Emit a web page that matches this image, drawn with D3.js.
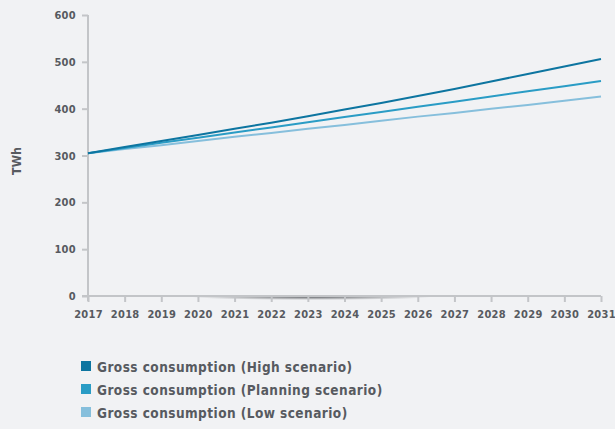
<!DOCTYPE html>
<html>
<head>
<meta charset="utf-8">
<script src="https://cdn.jsdelivr.net/npm/d3@7"></script>
<style>
	body { margin: 0; background: #f1f2f4; }
	svg text { font-family: "DejaVu Sans Condensed", "DejaVu Sans", sans-serif; font-weight: bold; fill: #575a60; }
</style>
</head>
<body>
<div id="chart"></div>
<script>
var years = [2017, 2018, 2019, 2020, 2021, 2022, 2023, 2024, 2025, 2026, 2027, 2028, 2029, 2030, 2031];
var high = [305, 318, 331, 344, 357, 370, 384, 398, 412, 427, 442, 458, 474, 490, 506];
var planning = [305, 316, 327, 338, 349, 360, 371, 382, 393, 404, 415, 426, 437, 448, 459];
var low = [305, 314, 322, 331, 340, 348, 357, 365, 374, 383, 391, 400, 408, 417, 426];
var yTicks = [0, 100, 200, 300, 400, 500, 600];
var seriesNames = ["Gross consumption (High scenario)", "Gross consumption (Planning scenario)", "Gross consumption (Low scenario)"];
var colors = ["#0d75a0", "#2a9cc5", "#86bfdc"];

var W = 615, H = 429;
var margin = {top: 15, left: 88};
var w = 513, h = 281;

var svg = d3.select("#chart").append("svg")
	.attr("width", W)
	.attr("height", H);

var defs = svg.append("defs");
var grad = defs.append("radialGradient").attr("id", "shadow")
	.attr("cx", "50%").attr("cy", "0%").attr("r", "50%");
grad.append("stop").attr("offset", "0%").attr("stop-color", "#606367").attr("stop-opacity", 0.9);
grad.append("stop").attr("offset", "100%").attr("stop-color", "#606367").attr("stop-opacity", 0);

var g = svg.append("g").attr("transform", "translate(" + margin.left + "," + margin.top + ")");

var x = d3.scaleLinear().domain([2017, 2031]).range([0, w]);
var y = d3.scaleLinear().domain([0, 600]).range([h, 0]);

// soft shadow under the x axis
g.append("rect")
	.attr("x", x(2019.8)).attr("y", h + 1)
	.attr("width", x(2026.4) - x(2019.8)).attr("height", 6)
	.attr("fill", "url(#shadow)");

// y axis
var yAxis = d3.axisLeft(y).tickValues(yTicks).tickSize(6).tickPadding(6);
var gy = g.append("g").call(yAxis);
gy.select(".domain").attr("stroke", "#c3c5c8").attr("stroke-width", 2).attr("d", "M0," + (h + 5) + "V0");
gy.selectAll(".tick line").attr("stroke", "#c3c5c8").attr("stroke-width", 2);
gy.selectAll(".tick text").attr("font-size", 11).attr("letter-spacing", 0.3);

// x axis
var xAxis = d3.axisBottom(x).tickValues(years).tickFormat(d3.format("d")).tickSize(6).tickPadding(8);
var gx = g.append("g").attr("transform", "translate(0," + h + ")").call(xAxis);
gx.select(".domain").attr("stroke", "#c3c5c8").attr("stroke-width", 2).attr("d", "M-6,0H" + w);
gx.selectAll(".tick line").attr("stroke", "#c3c5c8").attr("stroke-width", 2);
gx.selectAll(".tick text").attr("font-size", 11).attr("letter-spacing", 0.3);

// y label
svg.append("text")
	.attr("transform", "translate(21,161) rotate(-90)")
	.attr("text-anchor", "middle")
	.attr("font-size", 12.5)
	.text("TWh");

// lines
var line = d3.line()
	.x(function(d, i){ return x(years[i]); })
	.y(function(d){ return y(d); });

var series = [high, planning, low];
for (var i = series.length - 1; i >= 0; i--) {
	g.append("path")
		.datum(series[i])
		.attr("fill", "none")
		.attr("stroke", colors[i])
		.attr("stroke-width", 2)
		.attr("d", line);
}

// legend
var legend = svg.selectAll("g.legend")
	.data(seriesNames)
	.enter()
	.append("g")
	.attr("class", "legend")
	.attr("transform", function(d, i){ return "translate(81," + (361 + i * 23) + ")"; });

legend.append("rect")
	.attr("width", 10).attr("height", 10)
	.attr("fill", function(d, i){ return colors[i]; });

legend.append("text")
	.attr("x", 16).attr("y", 10.5)
	.attr("font-size", 13.5)
	.attr("letter-spacing", 0.45)
	.text(function(d){ return d; });
</script>
</body>
</html>
